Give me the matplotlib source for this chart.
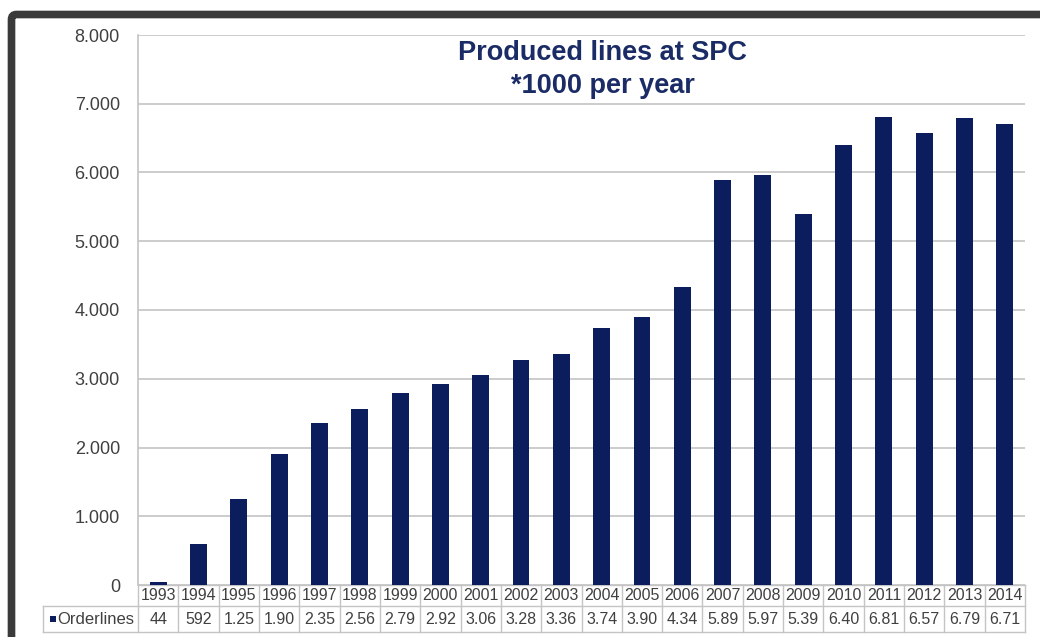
import matplotlib
matplotlib.use("Agg")
import matplotlib.pyplot as plt
import matplotlib.patches as patches
from matplotlib.lines import Line2D
from matplotlib.transforms import IdentityTransform
from matplotlib.ticker import FuncFormatter, MultipleLocator

plt.rcParams['font.family'] = ['Liberation Sans', 'DejaVu Sans']

# --- Data ---
years = ["1993", "1994", "1995", "1996", "1997", "1998", "1999", "2000",
         "2001", "2002", "2003", "2004", "2005", "2006", "2007", "2008",
         "2009", "2010", "2011", "2012", "2013", "2014"]
orderlines = [44, 592, 1250, 1900, 2350, 2560, 2790, 2920, 3060, 3280, 3360,
              3740, 3900, 4340, 5890, 5970, 5390, 6400, 6810, 6570, 6790, 6710]
table_labels = ["44", "592", "1.25", "1.90", "2.35", "2.56", "2.79", "2.92",
                "3.06", "3.28", "3.36", "3.74", "3.90", "4.34", "5.89", "5.97",
                "5.39", "6.40", "6.81", "6.57", "6.79", "6.71"]
series_name = "Orderlines"
title = "Produced lines at SPC\n*1000 per year"

navy = '#0b1d5c'
grid_c = '#c4c4c4'
text_c = '#404040'

fig = plt.figure(figsize=(10.4, 6.37), dpi=100)
ax = fig.add_axes([138 / 1040, 1 - 585 / 637, 887 / 1040, 550 / 637])

x = range(len(years))
ax.bar(x, orderlines, width=0.42, color=navy, zorder=3)

ax.set_xlim(-0.5, len(years) - 0.5)
ax.set_ylim(0, 8000)
ax.yaxis.set_major_locator(MultipleLocator(1000))
ax.yaxis.set_major_formatter(FuncFormatter(lambda v, p: f"{int(v):,}".replace(",", ".")))
ax.grid(axis='y', color=grid_c, linewidth=1.2, zorder=0)
ax.set_xticks([])
ax.tick_params(axis='y', length=0, pad=13, labelsize=13, labelcolor=text_c)
for s in ['top', 'right', 'bottom']:
    ax.spines[s].set_visible(False)
ax.spines['left'].set_color(grid_c)
ax.spines['left'].set_linewidth(1.2)

ax.text(0.524, 0.99, title, transform=ax.transAxes, ha='center', va='top',
        fontsize=19.5, fontweight='bold', color='#1a2b66', linespacing=1.32)

# --- Data table under the axis ---
n = len(years)
r1 = -21 / 550
r2 = -47 / 550
hdr = -95 / 887
kw = dict(transform=ax.transAxes, color=grid_c, linewidth=1, clip_on=False)
ax.add_line(Line2D([0, 1], [0, 0], **kw))
ax.add_line(Line2D([hdr, 1], [r1, r1], **kw))
ax.add_line(Line2D([hdr, 1], [r2, r2], **kw))
ax.add_line(Line2D([hdr, hdr], [r1, r2], **kw))
for i in range(n + 1):
    xi = i / n
    ax.add_line(Line2D([xi, xi], [0, r2], **kw))
for i in range(n):
    xc = (i + 0.5) / n
    ax.text(xc, r1 / 2, years[i], transform=ax.transAxes, ha='center', va='center',
            fontsize=11.5, color=text_c)
    ax.text(xc, (r1 + r2) / 2, table_labels[i], transform=ax.transAxes,
            ha='center', va='center', fontsize=11.5, color=text_c)
ax.add_patch(patches.Rectangle((-88 / 887, (r1 + r2) / 2 - 3 / 550), 6 / 887, 6 / 550,
                               transform=ax.transAxes, facecolor=navy, edgecolor='none',
                               clip_on=False))
ax.text(-81 / 887, (r1 + r2) / 2, series_name, transform=ax.transAxes, ha='left',
        va='center', fontsize=12, color=text_c)

# --- Dark frame on top and left ---
frame = patches.FancyBboxPatch((11.5, -60), 1200, 622.5 + 60,
                               boxstyle="round,pad=0,rounding_size=5",
                               linewidth=5.5, edgecolor='#3a3a3a', facecolor='none',
                               transform=IdentityTransform())
fig.patches.append(frame)

fig.savefig("out.png", dpi=100)
